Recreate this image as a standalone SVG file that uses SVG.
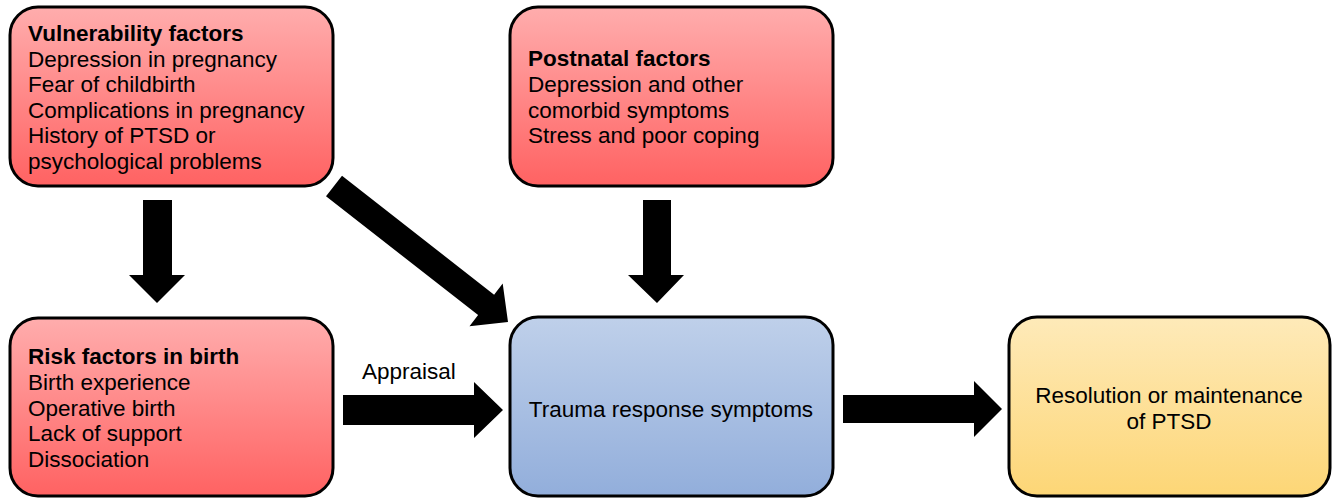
<svg xmlns="http://www.w3.org/2000/svg" width="1333" height="498" viewBox="0 0 1333 498">
<defs>
<linearGradient id="gRed" x1="0" y1="0" x2="0" y2="1">
<stop offset="0" stop-color="#ffadad"/>
<stop offset="1" stop-color="#ff6262"/>
</linearGradient>
<linearGradient id="gBlue" x1="0" y1="0" x2="0" y2="1">
<stop offset="0" stop-color="#bfd0ea"/>
<stop offset="1" stop-color="#92aedb"/>
</linearGradient>
<linearGradient id="gYellow" x1="0" y1="0" x2="0" y2="1">
<stop offset="0" stop-color="#feeab9"/>
<stop offset="1" stop-color="#fdd676"/>
</linearGradient>
<style>
.box{stroke:#000;stroke-width:3}
.red{fill:url(#gRed)}
.blue{fill:url(#gBlue)}
.yellow{fill:url(#gYellow)}
text{font-family:"Liberation Sans",Arial,sans-serif;font-size:22.5px;fill:#000}
.b{font-weight:bold}
.c{text-anchor:middle}
.arrow{fill:#000}
</style>
</defs>
<rect width="1333" height="498" fill="#fff"/>
<g id="connectors">
<polygon id="c-vuln-risk" class="arrow" points="143,200 172,200 172,275 185,275 157,303 129,275 143,275"/>
<polygon id="c-post-trauma" class="arrow" points="643,200 671,200 671,275 684,275 657,303 628,275 643,275"/>
<polygon id="c-vuln-trauma" class="arrow" points="342,175.8 494.1,294.7 502.7,283.6 508,322 469.5,326.2 478.1,315.1 326,196.2"/>
<polygon id="c-risk-trauma" class="arrow" points="343,395 474,395 474,382 503,410 474,438 474,425 343,425"/>
<text x="362" y="379">Appraisal</text>
<polygon id="c-trauma-res" class="arrow" points="843,395 974,395 974,381 1002,409 974,437 974,423 843,423"/>
</g>
<g id="vulnerability">
<rect class="box red" x="10" y="7" width="323" height="179" rx="28"/>
<text x="28" y="41" class="b">Vulnerability factors</text>
<text x="28" y="66.5">Depression in pregnancy</text>
<text x="28" y="92">Fear of childbirth</text>
<text x="28" y="117.5">Complications in pregnancy</text>
<text x="28" y="143">History of PTSD or</text>
<text x="28" y="168.5">psychological problems</text>
</g>
<g id="postnatal">
<rect class="box red" x="510" y="7" width="323" height="179" rx="28"/>
<text x="528" y="66" class="b">Postnatal factors</text>
<text x="528" y="92">Depression and other</text>
<text x="528" y="117.5">comorbid symptoms</text>
<text x="528" y="143">Stress and poor coping</text>
</g>
<g id="risk">
<rect class="box red" x="10" y="318" width="323" height="178" rx="28"/>
<text x="28" y="364" class="b">Risk factors in birth</text>
<text x="28" y="389.5">Birth experience</text>
<text x="28" y="415.5">Operative birth</text>
<text x="28" y="441">Lack of support</text>
<text x="28" y="467">Dissociation</text>
</g>
<g id="trauma">
<rect class="box blue" x="510" y="317" width="323" height="179" rx="28"/>
<text x="671" y="417" class="c">Trauma response symptoms</text>
</g>
<g id="resolution">
<rect class="box yellow" x="1009" y="317" width="321" height="179" rx="28"/>
<text x="1169" y="403" class="c">Resolution or maintenance</text>
<text x="1169" y="428.5" class="c">of PTSD</text>
</g>
</svg>
